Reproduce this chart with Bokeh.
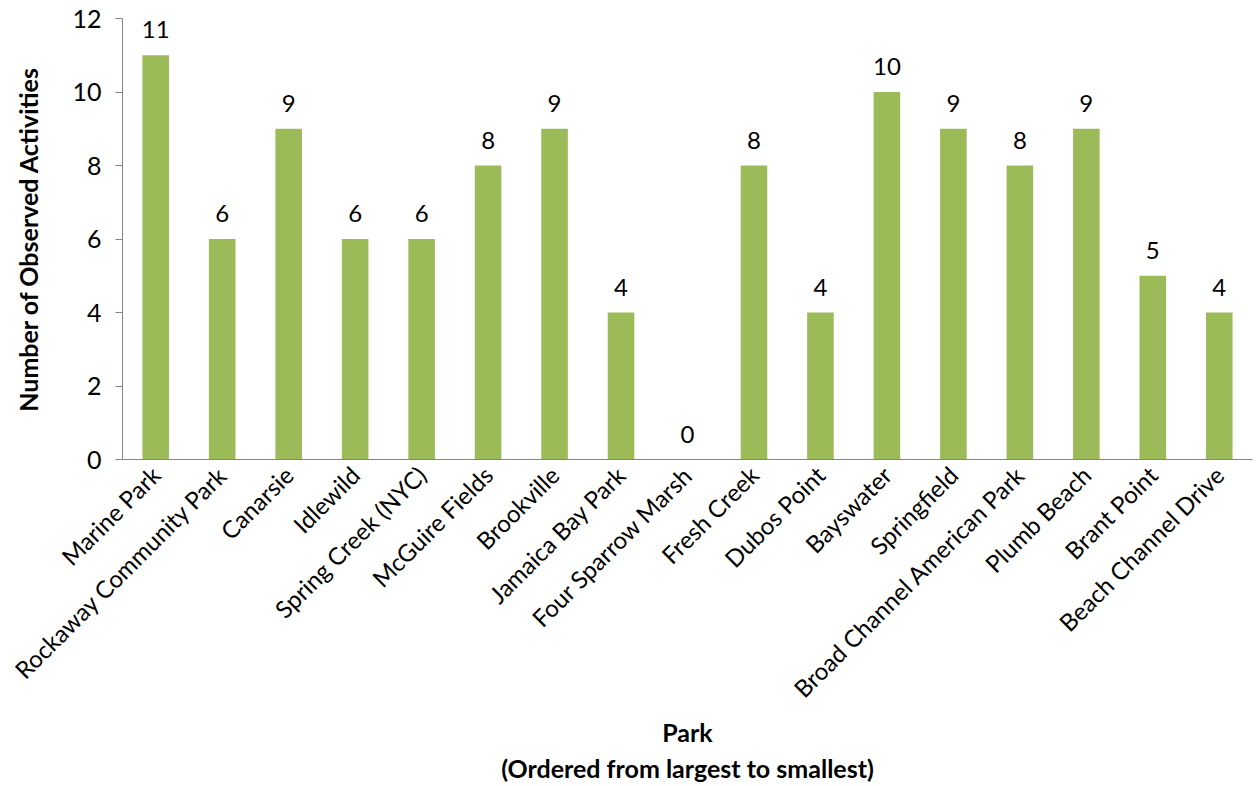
import math
from bokeh.plotting import figure
from bokeh.models import ColumnDataSource, Range1d, FixedTicker
from bokeh.core.properties import value
from bokeh.embed import file_html
from bokeh.resources import INLINE

parks = ["Marine Park", "Rockaway Community Park", "Canarsie", "Idlewild",
         "Spring Creek (NYC)", "McGuire Fields", "Brookville", "Jamaica Bay Park",
         "Four Sparrow Marsh", "Fresh Creek", "Dubos Point", "Bayswater",
         "Springfield", "Broad Channel American Park", "Plumb Beach",
         "Brant Point", "Beach Channel Drive"]
activities = [11, 6, 9, 6, 6, 8, 9, 4, 0, 8, 4, 10, 9, 8, 9, 5, 4]
y_ticks = [0, 2, 4, 6, 8, 10, 12]

FONT = "Lato"
src = ColumnDataSource(dict(park=parks, n=activities, lbl=[str(v) for v in activities]))

p = figure(x_range=parks, y_range=Range1d(0, 12), width=1257, height=786,
           output_backend="svg", toolbar_location=None,
           min_border_left=122, min_border_right=5, min_border_top=18,
           min_border_bottom=326)
p.outline_line_color = None
p.xgrid.grid_line_color = None
p.ygrid.grid_line_color = None
p.background_fill_color = "white"

p.vbar(x="park", top="n", width=0.4, source=src, fill_color="#9BBB59",
       line_color=None)
p.text(x="park", y="n", text="lbl", source=src, text_align="center",
       text_baseline="bottom", y_offset=-17, text_font=value(FONT),
       text_font_size="24px", text_color="black")

p.yaxis.ticker = FixedTicker(ticks=y_ticks)
p.yaxis.minor_tick_line_color = None
p.yaxis.major_tick_out = 7
p.yaxis.major_tick_in = 0
p.yaxis.axis_line_color = "#868686"
p.yaxis.major_tick_line_color = "#868686"
p.yaxis.major_label_text_font = FONT
p.yaxis.major_label_text_font_size = "25px"
p.yaxis.major_label_text_color = "black"
p.yaxis.major_label_standoff = 14
p.yaxis.axis_label = "Number of Observed Activities"
p.yaxis.axis_label_text_font = FONT
p.yaxis.axis_label_text_font_style = "bold"
p.yaxis.axis_label_text_font_size = "25px"
p.yaxis.axis_label_text_color = "black"
p.yaxis.axis_label_standoff = 26

p.xaxis.axis_line_color = "#868686"
p.xaxis.major_tick_line_color = None
p.xaxis.minor_tick_line_color = None
p.xaxis.major_label_orientation = math.pi / 4
p.xaxis.major_label_text_font = FONT
p.xaxis.major_label_text_font_size = "24px"
p.xaxis.major_label_text_color = "black"
p.xaxis.major_label_standoff = 5
p.xaxis.axis_label = "Park\n(Ordered from largest to smallest)"
p.xaxis.axis_label_text_font = FONT
p.xaxis.axis_label_text_font_style = "bold"
p.xaxis.axis_label_text_font_size = "25px"
p.xaxis.axis_label_text_color = "black"
p.xaxis.axis_label_standoff = 1

open("out.html", "w").write(file_html(p, INLINE))
